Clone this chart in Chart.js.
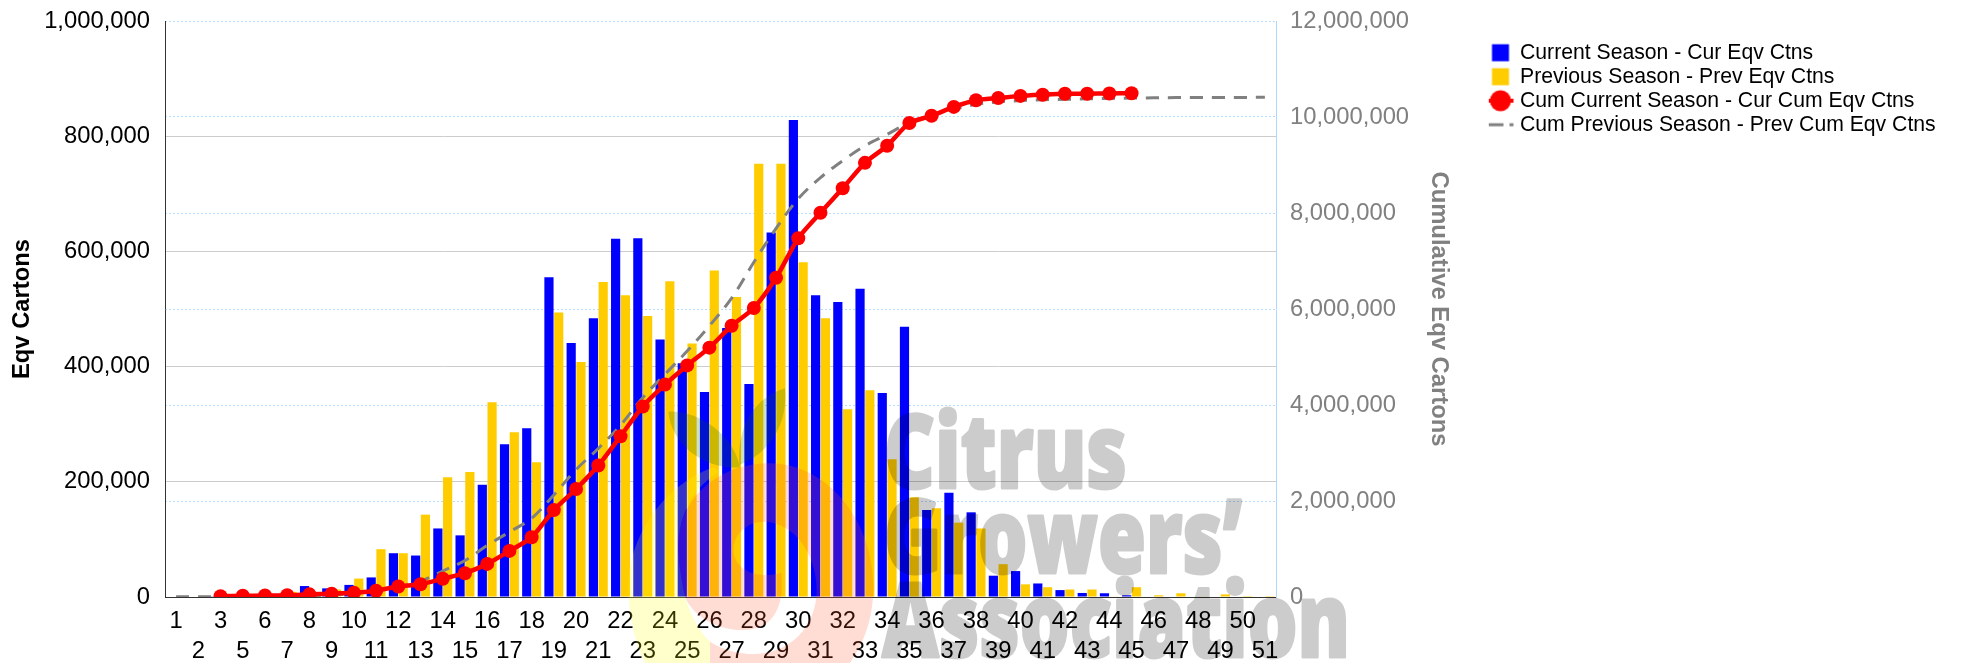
<!DOCTYPE html>
<html>
<head>
<meta charset="utf-8">
<title>Citrus Growers' Association - Eqv Cartons</title>
<script src="https://cdn.jsdelivr.net/npm/chart.js@4/dist/chart.umd.min.js"></script>
<style>
  html, body { margin: 0; padding: 0; background: #fff; overflow: hidden; }
  canvas { display: block; }
</style>
</head>
<body>
<canvas id="chart" width="1961" height="663" style="width:1961px;height:663px"></canvas>
<script>
// week 4 is not in the source data, the axis goes 3 -> 5
const weeks = ['1','2','3','5','6','7','8','9','10','11','12','13','14','15','16','17','18','19','20','21','22','23','24','25','26','27','28','29','30','31','32','33','34','35','36','37','38','39','40','41','42','43','44','45','46','47','48','49','50','51'];

const curEqv = [0,0,500,1000,1500,2500,19000,15000,21000,34000,76000,72000,119000,107000,195000,265000,293000,555000,441000,484000,622000,623000,447000,406000,356000,467000,370000,633000,828000,524000,512000,535000,354000,469000,151000,181000,147000,37000,45000,23500,12000,7000,6500,3000,0,0,0,0,0,0];
const prevEqv = [1000,2000,500,1000,1500,9000,8000,13000,32000,83000,76000,143000,208000,217000,338000,286000,234000,494000,408000,547000,524000,488000,548000,440000,567000,521000,752000,752000,581000,484000,326000,359000,239000,173000,154000,129000,119000,57000,22000,17000,13000,13000,1000,17000,3000,6500,1000,4500,1500,1500];
const curCum = [null,null,15000,25000,30000,35000,55000,70000,90000,130000,220000,265000,380000,495000,690000,960000,1245000,1810000,2250000,2740000,3350000,3970000,4425000,4825000,5195000,5650000,6020000,6650000,7475000,8005000,8515000,9045000,9400000,9875000,10025000,10210000,10350000,10395000,10440000,10465000,10485000,10485000,10490000,10495000,null,null,null,null,null,null];
const prevCum = [3000,5000,6000,8000,10000,20000,28000,48000,70000,140000,208000,333000,540000,760000,1075000,1355000,1640000,2125000,2654000,3095000,3580000,4153000,4640000,5123000,5650000,6225000,6974000,7680000,8297000,8738000,9090000,9399000,9637000,9884000,10043000,10166000,10263000,10316000,10342000,10360000,10369000,10378000,10387000,10395000,10400000,10404000,10404000,10406000,10408000,10410000];

const seriesNames = [
  'Current Season - Cur Eqv Ctns',
  'Previous Season - Prev Eqv Ctns',
  'Cum Current Season - Cur Cum Eqv Ctns',
  'Cum Previous Season - Prev Cum Eqv Ctns',
];

const BLUE = '#0000ff', AMBER = '#ffcc00', RED = '#ff0000', GREY = '#808080';
const FONT = '"Liberation Sans", Arial, sans-serif';

Chart.defaults.font.family = FONT;

// legend swatches, the built-in point styles have no marker-on-a-line
function swatch(draw) {
  const c = document.createElement('canvas');
  c.width = 28; c.height = 24;
  draw(c.getContext('2d'));
  return c;
}
const swatches = [
  swatch((g) => { g.fillStyle = BLUE; g.fillRect(5.5, 3.5, 17, 17); }),
  swatch((g) => { g.fillStyle = AMBER; g.fillRect(5.5, 3.5, 17, 17); }),
  swatch((g) => {
    g.fillStyle = RED;
    g.fillRect(1, 10, 26, 4);
    g.beginPath(); g.arc(14, 12, 10.5, 0, Math.PI * 2); g.fill();
  }),
  swatch((g) => {
    g.fillStyle = GREY;
    g.fillRect(1, 10.5, 16, 3);
    g.fillRect(23, 10.5, 4, 3);
  }),
];

// logo paths are in 3x crop units, origin at 610,380
const logoYellow = new Path2D('M310,262 C150,320 55,480 55,620 C55,700 75,790 105,849 L300,849 L300,785 C265,750 240,700 225,650 C215,600 205,550 205,500 C205,400 260,310 330,275 Z');
const logoPink = new Path2D('M225,650 C215,600 205,550 205,500 C205,350 330,250 480,250 C650,250 790,420 790,620 C790,720 760,790 720,849 L300,849 L300,785 C340,810 385,822 430,822 C540,822 620,740 620,630 C620,520 550,425 460,425 C410,425 370,465 370,510 C370,550 410,585 460,585 C480,585 500,582 515,578 L515,640 C505,710 470,750 400,750 C320,750 250,710 225,650 Z');
const leafLeft = new Path2D('M175,95 C260,90 370,160 390,262 C290,270 185,200 175,95 Z');
const leafRight = new Path2D('M525,25 C440,50 380,130 388,255 C480,220 535,130 525,25 Z');

// heavy lettering: fill + stroke on a spare canvas, then laid on once so the overlap doesn't go darker
function wordmark(w, h) {
  const c = document.createElement('canvas');
  c.width = w; c.height = h;
  const g = c.getContext('2d');
  g.font = '800 103px "Open Sans", sans-serif';
  g.lineWidth = 3;
  g.lineJoin = 'round';
  const put = (text, x, y, maxW) => { g.fillText(text, x, y, maxW); g.strokeText(text, x, y, maxW); };
  put('Citrus', 884, 488, 243);
  put('Growers’', 884, 573, 358);
  put('Association', 882, 657, 468);
  return c;
}

const watermark = {
  id: 'watermark',
  afterDraw(chart) {
    const g = chart.ctx;
    g.save();
    g.save();
    g.translate(610, 380);
    g.scale(1 / 3, 1 / 3);
    g.fillStyle = 'rgba(255,255,0,0.2)';
    g.fill(logoYellow);
    g.fillStyle = 'rgba(255,80,40,0.2)';
    g.fill(logoPink);
    g.fillStyle = 'rgba(0,100,0,0.2)';
    g.fill(leafLeft);
    g.fill(leafRight);
    g.restore();
    g.globalAlpha = 0.2;
    g.drawImage(wordmark(chart.width, chart.height), 0, 0);
    g.restore();
  },
};

// legend sits out right of the axes, at a spot the layout won't give it
const placeLegend = {
  id: 'placeLegend',
  afterLayout(chart) {
    const l = chart.legend;
    l.left = 1488.8; l.right = 1961;
    l.top = 39.3; l.bottom = 160;
  },
};

new Chart(document.getElementById('chart'), {
  type: 'bar',
  data: {
    labels: weeks,
    datasets: [
      { label: seriesNames[0], data: curEqv, backgroundColor: BLUE, yAxisID: 'y', order: 2, categoryPercentage: 0.88, barPercentage: 0.94 },
      { label: seriesNames[1], data: prevEqv, backgroundColor: AMBER, yAxisID: 'y', order: 3, categoryPercentage: 0.88, barPercentage: 0.94 },
      { type: 'line', label: seriesNames[2], data: curCum, yAxisID: 'y1', order: 0, borderColor: RED, backgroundColor: RED, borderWidth: 4.5, pointRadius: 7, pointBorderWidth: 0, tension: 0.25 },
      { type: 'line', label: seriesNames[3], data: prevCum, yAxisID: 'y1', order: 1, borderColor: GREY, borderWidth: 3, borderDash: [13, 9], pointRadius: 0, tension: 0.35 },
    ],
  },
  options: {
    responsive: false,
    animation: false,
    devicePixelRatio: 1,
    layout: { padding: { top: 21, right: 508, bottom: 0, left: 0 } },
    plugins: {
      tooltip: { enabled: false },
      legend: {
        position: 'chartArea',
        align: 'start',
        labels: {
          usePointStyle: true,
          boxWidth: 17.8,
          padding: 2.8,
          color: '#000',
          font: { size: 21.2 },
          generateLabels: (chart) => chart.data.datasets.map((d, i) => ({ text: d.label, pointStyle: swatches[i], datasetIndex: i, lineWidth: 0, hidden: false })),
        },
      },
    },
    scales: {
      x: {
        afterFit: (s) => { s.height = 66; },
        grid: { display: false, drawTicks: false },
        border: { color: '#333' },
        ticks: {
          autoSkip: false, minRotation: 0, maxRotation: 0, padding: 8.5,
          color: '#000',
          font: { size: 23.8, lineHeight: 1.3 },
          callback: (v, i) => (i % 2 ? ['', weeks[i]] : weeks[i]),
        },
      },
      y: {
        position: 'left',
        min: 0, max: 1000000,
        afterFit: (s) => { s.width = 165; s.paddingTop = 0; s.paddingBottom = 0; },
        grid: { drawTicks: false, color: (c) => (c.tick.value === 1000000 || c.tick.value === 0 ? 'transparent' : '#cccccc') },
        border: { color: '#333' },
        ticks: { stepSize: 200000, padding: 15, color: '#000', font: { size: 23.8 }, callback: (v) => v.toLocaleString('en-US') },
        title: { display: true, text: 'Eqv Cartons', color: '#000', padding: { top: 8.5, bottom: 0 }, font: { size: 23.8, weight: 'bold' } },
      },
      y1: {
        position: 'right',
        min: 0, max: 12000000,
        afterFit: (s) => { s.width = 177; s.paddingTop = 0; s.paddingBottom = 0; },
        grid: { drawTicks: false, color: (c) => (c.tick.value === 0 ? 'transparent' : '#b4dcff') },
        border: { color: '#aed6ff', dash: [2, 2] },
        ticks: { stepSize: 2000000, padding: 14, color: GREY, font: { size: 23.8 }, callback: (v) => v.toLocaleString('en-US') },
        title: { display: true, text: 'Cumulative Eqv Cartons', color: GREY, padding: { top: 0, bottom: 0 }, font: { size: 23.8, weight: 'bold' } },
      },
    },
  },
  plugins: [placeLegend, watermark],
});
</script>
</body>
</html>
